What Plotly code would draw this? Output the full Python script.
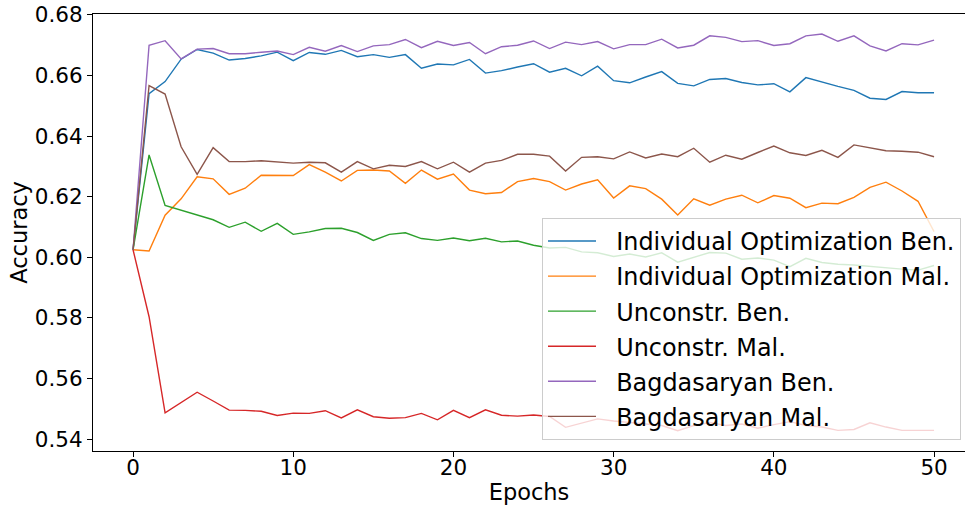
import plotly.graph_objects as go

# Accuracy per epoch for each training setup
epochs = list(range(51))

indiv_ben = [0.6025, 0.654, 0.658, 0.6654, 0.6686, 0.6674, 0.6651, 0.6656, 0.6665, 0.6677,
             0.6649, 0.6676, 0.667, 0.6683, 0.6662, 0.6669, 0.666, 0.6669, 0.6624, 0.6638,
             0.6635, 0.6653, 0.6608, 0.6616, 0.6628, 0.6639, 0.6611, 0.6624, 0.6599, 0.6631,
             0.6583, 0.6576, 0.6595, 0.6613, 0.6574, 0.6566, 0.6587, 0.659, 0.6577, 0.6569,
             0.6573, 0.6546, 0.6593, 0.6578, 0.6564, 0.6551, 0.6525, 0.6521, 0.6547, 0.6543,
             0.6543]
indiv_mal = [0.6025, 0.6021, 0.6139, 0.6193, 0.6266, 0.6259, 0.6208, 0.6228, 0.6271, 0.6271,
             0.627, 0.6306, 0.6281, 0.6252, 0.6287, 0.6288, 0.6285, 0.6244, 0.6288, 0.6258,
             0.6275, 0.6222, 0.621, 0.6214, 0.625, 0.626, 0.625, 0.6222, 0.6242, 0.6256,
             0.6196, 0.6236, 0.6227, 0.6192, 0.614, 0.6193, 0.6172, 0.6192, 0.6205, 0.618,
             0.6204, 0.6195, 0.6164, 0.6179, 0.6177, 0.6198, 0.6231, 0.6248, 0.6219, 0.6185,
             0.6085]
unc_ben = [0.6025, 0.6338, 0.6171, 0.6156, 0.614, 0.6124, 0.6099, 0.6116, 0.6086, 0.6112,
           0.6076, 0.6084, 0.6095, 0.6096, 0.6082, 0.6056, 0.6076, 0.6081, 0.6062, 0.6056,
           0.6064, 0.6055, 0.6063, 0.6051, 0.6054, 0.604, 0.6031, 0.6033, 0.6018, 0.6015,
           0.6003, 0.6011, 0.6001, 0.6015, 0.5984, 0.5999, 0.6016, 0.6014, 0.5994, 0.5998,
           0.5991, 0.5969, 0.5997, 0.5983, 0.5977, 0.5975, 0.597, 0.5964, 0.5961, 0.5958,
           0.5973]
unc_mal = [0.6025, 0.5804, 0.5487, 0.5522, 0.5555, 0.5526, 0.5496, 0.5495, 0.5492, 0.5478,
           0.5486, 0.5485, 0.5494, 0.547, 0.5497, 0.5474, 0.5469, 0.5471, 0.5485, 0.5464,
           0.5495, 0.5471, 0.5497, 0.5479, 0.5476, 0.548, 0.5475, 0.5439, 0.5452, 0.5467,
           0.546, 0.5455, 0.545, 0.5445, 0.5428, 0.5445, 0.5455, 0.5445, 0.545, 0.5436,
           0.5448, 0.5458, 0.5445, 0.544, 0.5429, 0.5432, 0.5454, 0.544, 0.5429, 0.5429,
           0.5429]
bagd_ben = [0.6025, 0.670, 0.6715, 0.6655, 0.6687, 0.6689, 0.6672, 0.6672, 0.6677, 0.6681,
            0.6669, 0.6693, 0.668, 0.6699, 0.6679, 0.6698, 0.6702, 0.6719, 0.6692, 0.6713,
            0.6699, 0.6709, 0.6672, 0.6695, 0.670, 0.6714, 0.6689, 0.671, 0.6702, 0.6712,
            0.6688, 0.6702, 0.6702, 0.672, 0.6691, 0.670, 0.6731, 0.6726, 0.6712, 0.6715,
            0.6699, 0.6705, 0.6731, 0.6737, 0.6713, 0.6731, 0.6698, 0.6681, 0.6705, 0.6701,
            0.6717]
bagd_mal = [0.6025, 0.6567, 0.6539, 0.6365, 0.6274, 0.6362, 0.6316, 0.6316, 0.6319, 0.6316,
            0.6311, 0.6314, 0.6312, 0.6281, 0.6316, 0.6292, 0.6304, 0.630, 0.6316, 0.6292,
            0.6314, 0.6281, 0.6311, 0.632, 0.634, 0.634, 0.6334, 0.6285, 0.633, 0.6332,
            0.6325, 0.6348, 0.6328, 0.6341, 0.6332, 0.636, 0.6314, 0.6337, 0.6324, 0.6346,
            0.6367, 0.6345, 0.6336, 0.6353, 0.633, 0.6371, 0.6362, 0.6352, 0.635, 0.6347,
            0.6332]

series_names = ["Individual Optimization Ben.", "Individual Optimization Mal.",
                "Unconstr. Ben.", "Unconstr. Mal.", "Bagdasaryan Ben.", "Bagdasaryan Mal."]
series_values = [indiv_ben, indiv_mal, unc_ben, unc_mal, bagd_ben, bagd_mal]
colors = ["#1f77b4", "#ff7f0e", "#2ca02c", "#d62728", "#9467bd", "#8c564b"]

y_ticks = [0.54, 0.56, 0.58, 0.60, 0.62, 0.64, 0.66, 0.68]
x_ticks = [0, 10, 20, 30, 40, 50]

FONT = "DejaVu Sans"
GAP = "\u00a0\u00a0"  # extra space between legend line sample and label

fig = go.Figure()
for i, (name, vals, col) in enumerate(zip(series_names, series_values, colors)):
    fig.add_trace(go.Scatter(
        x=epochs, y=vals, mode="lines", name=GAP + name,
        line=dict(color=col, width=1.4),
        legendgroup=f"g{i}",
    ))

fig.update_layout(
    width=965, height=505,
    margin=dict(l=93, r=0, t=14, b=54),
    paper_bgcolor="white", plot_bgcolor="white",
    font=dict(family=FONT, color="black", size=21.5),
    showlegend=True,
    legend=dict(
        x=(542 - 93) / 872, y=(451 - 218) / 437,
        xanchor="left", yanchor="top",
        bgcolor="rgba(255,255,255,0.8)",
        bordercolor="#cccccc", borderwidth=1,
        font=dict(family=FONT, size=23.9, color="black"),
        tracegroupgap=1,
        itemwidth=48,
    ),
    xaxis=dict(
        range=[-2.5, -2.5 + 872 / 16.02],
        tickvals=x_ticks, ticktext=[str(v) for v in x_ticks],
        ticks="outside", ticklen=5, tickwidth=1, tickcolor="black",
        ticklabelstandoff=-8,
        showline=True, linecolor="black", linewidth=1, mirror=True,
        showgrid=False, zeroline=False, automargin=False,
        tickfont=dict(size=21.5),
        title=dict(text="Epochs", font=dict(size=22.5), standoff=14),
    ),
    yaxis=dict(
        range=[0.5361, 0.6803],
        tickvals=y_ticks, ticktext=[f"{v:.2f}" for v in y_ticks],
        ticks="outside", ticklen=5, tickwidth=1, tickcolor="black",
        showline=True, linecolor="black", linewidth=1, mirror=False,
        showgrid=False, zeroline=False, automargin=False,
        tickfont=dict(size=21.5),
        title=dict(text="Accuracy", font=dict(size=22.5), standoff=0),
    ),
)

fig.write_html("out.html")
